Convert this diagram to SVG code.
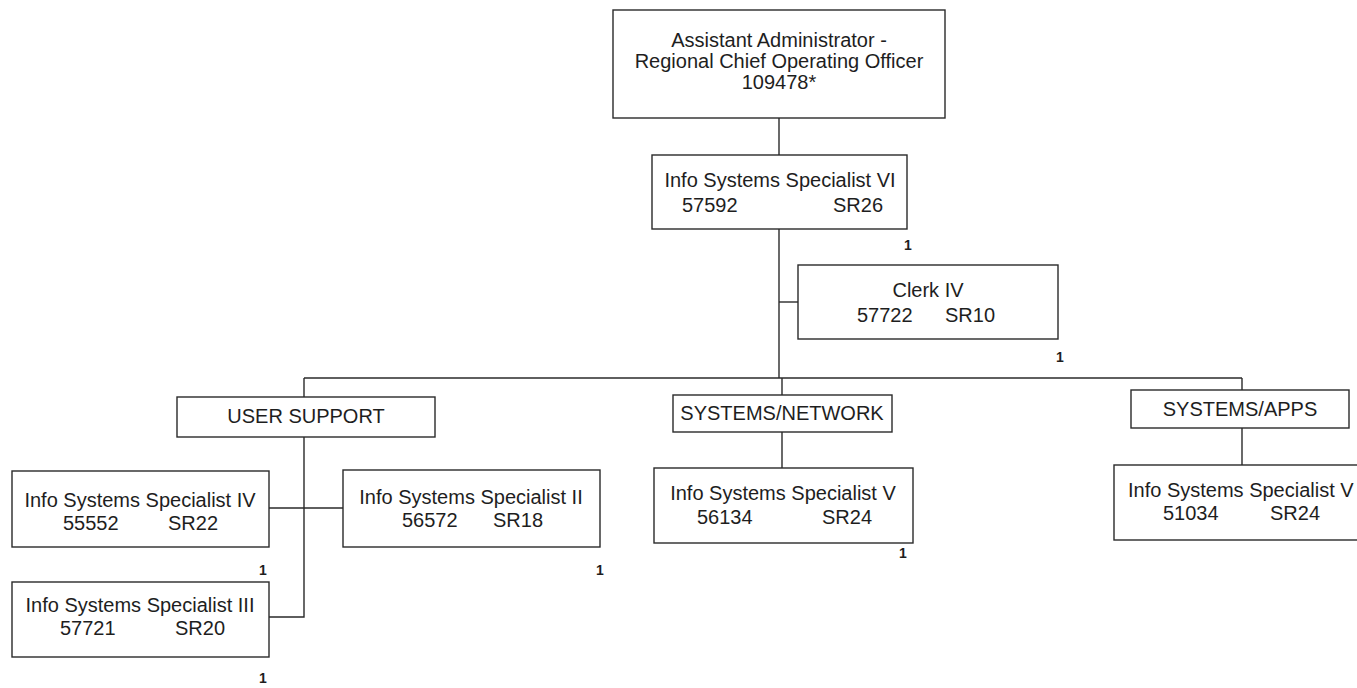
<svg xmlns="http://www.w3.org/2000/svg" width="1357" height="688" viewBox="0 0 1357 688">
<style>
.box{fill:#fff;stroke:#2a2a2a;stroke-width:1.4}
.t{font-family:"Liberation Sans",Arial,sans-serif;font-size:20px;fill:#1e1e1e}
.c{text-anchor:middle}
.n{font-family:"Liberation Sans",Arial,sans-serif;font-size:14px;font-weight:bold;fill:#1e1e1e;text-anchor:middle}
.ln{fill:none;stroke:#2a2a2a;stroke-width:1.4}
</style>
<rect width="1357" height="688" fill="#fff"/>
<g id="connectors">
<path class="ln" d="M779 118V378"/>
<path class="ln" d="M779 302H798"/>
<path class="ln" d="M304 378H1242"/>
<path class="ln" d="M304 378V397"/>
<path class="ln" d="M782 378V395"/>
<path class="ln" d="M1242 378V390"/>
<path class="ln" d="M304 437V617H269"/>
<path class="ln" d="M269 508H343"/>
<path class="ln" d="M782 432V468"/>
<path class="ln" d="M1242 428V465"/>
</g>
<g id="admin">
<rect class="box" x="613" y="10" width="332" height="108"/>
<text class="t c" x="779" y="47">Assistant Administrator -</text>
<text class="t c" x="779" y="68">Regional Chief Operating Officer</text>
<text class="t c" x="779" y="89">109478*</text>
</g>
<g id="iss6">
<rect class="box" x="652" y="155" width="255" height="74"/>
<text class="t c" x="780" y="187">Info Systems Specialist VI</text>
<text class="t" x="682" y="212">57592</text>
<text class="t" x="833" y="212">SR26</text>
<text class="n" x="908" y="250">1</text>
</g>
<g id="clerk4">
<rect class="box" x="798" y="265" width="260" height="74"/>
<text class="t c" x="928" y="297">Clerk IV</text>
<text class="t" x="857" y="322">57722</text>
<text class="t" x="945" y="322">SR10</text>
<text class="n" x="1060" y="362">1</text>
</g>
<g id="user-support">
<rect class="box" x="177" y="397" width="258" height="40"/>
<text class="t c" x="306" y="423">USER SUPPORT</text>
</g>
<g id="systems-network">
<rect class="box" x="673" y="395" width="219" height="37"/>
<text class="t c" x="782" y="420">SYSTEMS/NETWORK</text>
</g>
<g id="systems-apps">
<rect class="box" x="1131" y="390" width="218" height="38"/>
<text class="t c" x="1240" y="416">SYSTEMS/APPS</text>
</g>
<g id="iss4">
<rect class="box" x="12" y="471" width="257" height="76"/>
<text class="t c" x="140" y="507">Info Systems Specialist IV</text>
<text class="t" x="63" y="530">55552</text>
<text class="t" x="168" y="530">SR22</text>
<text class="n" x="263" y="575">1</text>
</g>
<g id="iss2">
<rect class="box" x="343" y="470" width="257" height="77"/>
<text class="t c" x="471" y="504">Info Systems Specialist II</text>
<text class="t" x="402" y="527">56572</text>
<text class="t" x="493" y="527">SR18</text>
<text class="n" x="600" y="575">1</text>
</g>
<g id="iss3">
<rect class="box" x="12" y="582" width="257" height="75"/>
<text class="t c" x="140" y="612">Info Systems Specialist III</text>
<text class="t" x="60" y="635">57721</text>
<text class="t" x="175" y="635">SR20</text>
<text class="n" x="263" y="683">1</text>
</g>
<g id="iss5-network">
<rect class="box" x="654" y="468" width="259" height="75"/>
<text class="t c" x="783" y="500">Info Systems Specialist V</text>
<text class="t" x="697" y="524">56134</text>
<text class="t" x="822" y="524">SR24</text>
<text class="n" x="903" y="558">1</text>
</g>
<g id="iss5-apps">
<rect class="box" x="1114" y="465" width="260" height="75"/>
<text class="t" x="1128" y="497">Info Systems Specialist V</text>
<text class="t" x="1163" y="520">51034</text>
<text class="t" x="1270" y="520">SR24</text>
</g>
</svg>
